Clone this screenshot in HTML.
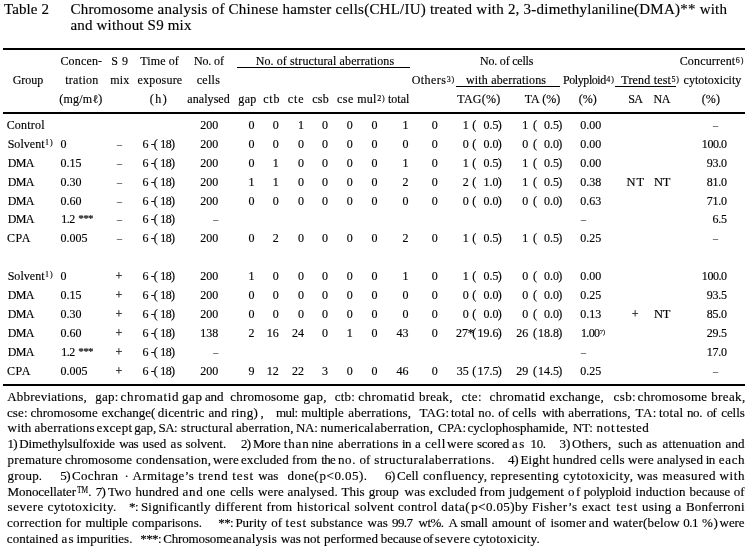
<!DOCTYPE html>
<html><head><meta charset="utf-8"><title>Table 2</title>
<style>
html,body{margin:0;padding:0;background:#fff;}
body{width:750px;height:548px;position:relative;overflow:hidden;font-family:"Liberation Serif", "Noto Serif CJK JP", serif;color:#000;}
div{position:absolute;white-space:pre;line-height:1;-webkit-text-stroke:0.15px #000;}
i{position:absolute;background:#000;display:block;}
.s{position:relative;letter-spacing:0.8px;line-height:0;margin-left:0.5px;}
</style></head><body>
<i style="left:3px;width:742px;top:48px;height:2px"></i>
<i style="left:3px;width:742px;top:112px;height:2px"></i>
<i style="left:3px;width:742px;top:384px;height:2px"></i>
<i style="left:237px;width:173px;top:67px;height:1px"></i>
<i style="left:456px;width:104px;top:86px;height:1px"></i>
<i style="left:615px;width:61px;top:86px;height:1px"></i>
<div style="top:2.00px;font-size:15px;letter-spacing:0.109px;left:3.95px;">Table 2</div>
<div style="top:2.00px;font-size:15px;letter-spacing:0.228px;left:70.45px;">Chromosome analysis of Chinese hamster cells(CHL/IU) treated with 2, 3-dimethylaniline(DMA)** with</div>
<div style="top:18.00px;font-size:15px;letter-spacing:0.181px;left:70.45px;">and without S9 mix</div>
<div style="top:74.00px;font-size:12.0px;letter-spacing:0.014px;left:12.64px;">Group</div>
<div style="top:55.00px;font-size:12.0px;letter-spacing:0.161px;left:60.44px;">Concen-</div>
<div style="top:74.00px;font-size:12.0px;letter-spacing:0.316px;left:65.14px;">tration</div>
<div style="top:93.00px;font-size:12.0px;letter-spacing:0.213px;left:59.34px;">(mg/mℓ)</div>
<div style="top:55.00px;font-size:12.0px;letter-spacing:0.523px;left:111.24px;">S 9</div>
<div style="top:74.00px;font-size:12.0px;letter-spacing:0.176px;left:110.24px;">mix</div>
<div style="top:55.00px;font-size:12.0px;letter-spacing:0.087px;left:140.34px;">Time of</div>
<div style="top:74.00px;font-size:12.0px;letter-spacing:0.186px;left:137.54px;">exposure</div>
<div style="top:93.00px;font-size:12.0px;letter-spacing:1.514px;left:149.64px;">(h)</div>
<div style="top:55.00px;font-size:12.0px;letter-spacing:-0.128px;left:193.94px;">No. of</div>
<div style="top:74.00px;font-size:12.0px;letter-spacing:0.307px;left:196.64px;">cells</div>
<div style="top:93.00px;font-size:12.0px;letter-spacing:0.063px;left:187.34px;">analysed</div>
<div style="top:55.00px;font-size:12.0px;letter-spacing:0.112px;left:255.64px;">No. of structural aberrations</div>
<div style="top:93.00px;font-size:12.0px;letter-spacing:0.397px;left:238.24px;">gap</div>
<div style="top:93.00px;font-size:12.0px;letter-spacing:0.780px;left:263.24px;">ctb</div>
<div style="top:93.00px;font-size:12.0px;letter-spacing:0.967px;left:287.64px;">cte</div>
<div style="top:93.00px;font-size:12.0px;letter-spacing:0.212px;left:312.24px;">csb</div>
<div style="top:93.00px;font-size:12.0px;letter-spacing:0.449px;left:337.04px;">cse</div>
<div style="top:93.00px;font-size:12.0px;letter-spacing:-0.002px;left:388.04px;">total</div>
<div style="top:93.00px;font-size:12.0px;letter-spacing:0.276px;left:357.24px;">mul<span class="s" style="font-size:8px;top:-2.5px;letter-spacing:0.8px">2)</span></div>
<div style="top:74.00px;font-size:12.0px;letter-spacing:0.446px;left:411.64px;">Others<span class="s" style="font-size:8px;top:-2.5px;letter-spacing:0.8px">3)</span></div>
<div style="top:55.00px;font-size:12.0px;letter-spacing:-0.212px;left:480.04px;">No. of cells</div>
<div style="top:74.00px;font-size:12.0px;letter-spacing:0.158px;left:466.04px;">with aberrations</div>
<div style="top:93.00px;font-size:12.0px;letter-spacing:0.286px;left:457.24px;">TAG(%)</div>
<div style="top:93.00px;font-size:12.0px;letter-spacing:0.059px;left:524.64px;">TA (%)</div>
<div style="top:74.00px;font-size:12.0px;letter-spacing:-0.432px;left:563.04px;">Polyploid<span class="s" style="font-size:8px;top:-2.5px;letter-spacing:0.8px">4)</span></div>
<div style="top:93.00px;font-size:12.0px;letter-spacing:-0.034px;left:578.84px;">(%)</div>
<div style="top:74.00px;font-size:12.0px;letter-spacing:0.181px;left:621.34px;">Trend test<span class="s" style="font-size:8px;top:-2.5px;letter-spacing:0.8px">5)</span></div>
<div style="top:93.00px;font-size:12.0px;letter-spacing:-0.600px;left:628.28px;">SA</div>
<div style="top:93.00px;font-size:12.0px;letter-spacing:-0.600px;left:653.58px;">NA</div>
<div style="top:55.00px;font-size:12.0px;letter-spacing:0.171px;left:679.64px;">Concurrent<span class="s" style="font-size:8px;top:-2.5px;letter-spacing:0.8px">6)</span></div>
<div style="top:74.00px;font-size:12.0px;letter-spacing:0.036px;left:683.54px;">cytotoxicity</div>
<div style="top:93.00px;font-size:12.0px;letter-spacing:0.116px;left:701.74px;">(%)</div>
<div style="top:119.00px;font-size:12.0px;letter-spacing:0.209px;left:6.64px;">Control</div>
<div style="top:119.00px;font-size:12.0px;right:531.74px;">200</div>
<div style="top:119.00px;font-size:12.0px;right:495.54px;">0</div>
<div style="top:119.00px;font-size:12.0px;right:471.24px;">0</div>
<div style="top:119.00px;font-size:12.0px;right:446.14px;">1</div>
<div style="top:119.00px;font-size:12.0px;right:422.04px;">0</div>
<div style="top:119.00px;font-size:12.0px;right:397.34px;">0</div>
<div style="top:119.00px;font-size:12.0px;right:372.64px;">0</div>
<div style="top:119.00px;font-size:12.0px;right:341.64px;">1</div>
<div style="top:119.00px;font-size:12.0px;right:312.24px;">0</div>
<div style="top:119.00px;font-size:12.0px;right:281.24px;">1</div>
<div style="top:119.00px;font-size:12.0px;left:472.24px;">(</div>
<div style="top:119.00px;font-size:12.0px;right:251.64px;">0.5</div>
<div style="top:119.00px;font-size:12.0px;left:497.64px;">)</div>
<div style="top:119.00px;font-size:12.0px;right:221.84px;">1</div>
<div style="top:119.00px;font-size:12.0px;left:532.94px;">(</div>
<div style="top:119.00px;font-size:12.0px;right:191.14px;">0.5</div>
<div style="top:119.00px;font-size:12.0px;left:558.14px;">)</div>
<div style="top:119.00px;font-size:12.0px;left:580.24px;">0.00</div>
<div style="top:121.00px;font-size:10px;left:715.50px;transform:translateX(-50%);">–</div>
<div style="top:138.00px;font-size:12.0px;letter-spacing:0.042px;left:7.64px;">Solvent<span class="s" style="font-size:8px;top:-3.2px;letter-spacing:0.8px">1)</span></div>
<div style="top:138.00px;font-size:12.0px;left:60.54px;">0</div>
<div style="top:140.00px;font-size:10px;left:119.50px;transform:translateX(-50%);">–</div>
<div style="top:138.00px;font-size:12.0px;left:142.54px;">6</div>
<div style="top:138.00px;font-size:12.0px;left:150.64px;">-</div>
<div style="top:138.00px;font-size:12.0px;left:153.64px;">(</div>
<div style="top:138.00px;font-size:12.0px;letter-spacing:-0.600px;left:160.30px;">18</div>
<div style="top:138.00px;font-size:12.0px;left:171.04px;">)</div>
<div style="top:138.00px;font-size:12.0px;right:531.74px;">200</div>
<div style="top:138.00px;font-size:12.0px;right:495.54px;">0</div>
<div style="top:138.00px;font-size:12.0px;right:471.24px;">0</div>
<div style="top:138.00px;font-size:12.0px;right:446.14px;">0</div>
<div style="top:138.00px;font-size:12.0px;right:422.04px;">0</div>
<div style="top:138.00px;font-size:12.0px;right:397.34px;">0</div>
<div style="top:138.00px;font-size:12.0px;right:372.64px;">0</div>
<div style="top:138.00px;font-size:12.0px;right:341.64px;">0</div>
<div style="top:138.00px;font-size:12.0px;right:312.24px;">0</div>
<div style="top:138.00px;font-size:12.0px;right:281.24px;">0</div>
<div style="top:138.00px;font-size:12.0px;left:472.24px;">(</div>
<div style="top:138.00px;font-size:12.0px;right:251.64px;">0.0</div>
<div style="top:138.00px;font-size:12.0px;left:497.64px;">)</div>
<div style="top:138.00px;font-size:12.0px;right:221.84px;">0</div>
<div style="top:138.00px;font-size:12.0px;left:532.94px;">(</div>
<div style="top:138.00px;font-size:12.0px;right:191.14px;">0.0</div>
<div style="top:138.00px;font-size:12.0px;left:558.14px;">)</div>
<div style="top:138.00px;font-size:12.0px;left:580.24px;">0.00</div>
<div style="top:138.00px;font-size:12.0px;letter-spacing:-0.450px;right:23.39px;">100.0</div>
<div style="top:157.00px;font-size:12.0px;letter-spacing:-0.600px;left:7.70px;">DMA</div>
<div style="top:157.00px;font-size:12.0px;left:60.54px;">0.15</div>
<div style="top:159.00px;font-size:10px;left:119.50px;transform:translateX(-50%);">–</div>
<div style="top:157.00px;font-size:12.0px;left:142.54px;">6</div>
<div style="top:157.00px;font-size:12.0px;left:150.64px;">-</div>
<div style="top:157.00px;font-size:12.0px;left:153.64px;">(</div>
<div style="top:157.00px;font-size:12.0px;letter-spacing:-0.600px;left:160.30px;">18</div>
<div style="top:157.00px;font-size:12.0px;left:171.04px;">)</div>
<div style="top:157.00px;font-size:12.0px;right:531.74px;">200</div>
<div style="top:157.00px;font-size:12.0px;right:495.54px;">0</div>
<div style="top:157.00px;font-size:12.0px;right:471.24px;">1</div>
<div style="top:157.00px;font-size:12.0px;right:446.14px;">0</div>
<div style="top:157.00px;font-size:12.0px;right:422.04px;">0</div>
<div style="top:157.00px;font-size:12.0px;right:397.34px;">0</div>
<div style="top:157.00px;font-size:12.0px;right:372.64px;">0</div>
<div style="top:157.00px;font-size:12.0px;right:341.64px;">1</div>
<div style="top:157.00px;font-size:12.0px;right:312.24px;">0</div>
<div style="top:157.00px;font-size:12.0px;right:281.24px;">1</div>
<div style="top:157.00px;font-size:12.0px;left:472.24px;">(</div>
<div style="top:157.00px;font-size:12.0px;right:251.64px;">0.5</div>
<div style="top:157.00px;font-size:12.0px;left:497.64px;">)</div>
<div style="top:157.00px;font-size:12.0px;right:221.84px;">1</div>
<div style="top:157.00px;font-size:12.0px;left:532.94px;">(</div>
<div style="top:157.00px;font-size:12.0px;right:191.14px;">0.5</div>
<div style="top:157.00px;font-size:12.0px;left:558.14px;">)</div>
<div style="top:157.00px;font-size:12.0px;left:580.24px;">0.00</div>
<div style="top:157.00px;font-size:12.0px;letter-spacing:-0.250px;right:23.19px;">93.0</div>
<div style="top:176.00px;font-size:12.0px;letter-spacing:-0.600px;left:7.70px;">DMA</div>
<div style="top:176.00px;font-size:12.0px;left:60.54px;">0.30</div>
<div style="top:178.00px;font-size:10px;left:119.50px;transform:translateX(-50%);">–</div>
<div style="top:176.00px;font-size:12.0px;left:142.54px;">6</div>
<div style="top:176.00px;font-size:12.0px;left:150.64px;">-</div>
<div style="top:176.00px;font-size:12.0px;left:153.64px;">(</div>
<div style="top:176.00px;font-size:12.0px;letter-spacing:-0.600px;left:160.30px;">18</div>
<div style="top:176.00px;font-size:12.0px;left:171.04px;">)</div>
<div style="top:176.00px;font-size:12.0px;right:531.74px;">200</div>
<div style="top:176.00px;font-size:12.0px;right:495.54px;">1</div>
<div style="top:176.00px;font-size:12.0px;right:471.24px;">1</div>
<div style="top:176.00px;font-size:12.0px;right:446.14px;">0</div>
<div style="top:176.00px;font-size:12.0px;right:422.04px;">0</div>
<div style="top:176.00px;font-size:12.0px;right:397.34px;">0</div>
<div style="top:176.00px;font-size:12.0px;right:372.64px;">0</div>
<div style="top:176.00px;font-size:12.0px;right:341.64px;">2</div>
<div style="top:176.00px;font-size:12.0px;right:312.24px;">0</div>
<div style="top:176.00px;font-size:12.0px;right:281.24px;">2</div>
<div style="top:176.00px;font-size:12.0px;left:472.24px;">(</div>
<div style="top:176.00px;font-size:12.0px;right:251.64px;">1.0</div>
<div style="top:176.00px;font-size:12.0px;left:497.64px;">)</div>
<div style="top:176.00px;font-size:12.0px;right:221.84px;">1</div>
<div style="top:176.00px;font-size:12.0px;left:532.94px;">(</div>
<div style="top:176.00px;font-size:12.0px;right:191.14px;">0.5</div>
<div style="top:176.00px;font-size:12.0px;left:558.14px;">)</div>
<div style="top:176.00px;font-size:12.0px;left:580.24px;">0.38</div>
<div style="top:176.00px;font-size:12.5px;letter-spacing:0.887px;left:626.62px;">NT</div>
<div style="top:176.00px;font-size:12.5px;letter-spacing:-0.113px;left:653.92px;">NT</div>
<div style="top:176.00px;font-size:12.0px;letter-spacing:-0.250px;right:23.19px;">81.0</div>
<div style="top:195.00px;font-size:12.0px;letter-spacing:-0.600px;left:7.70px;">DMA</div>
<div style="top:195.00px;font-size:12.0px;left:60.54px;">0.60</div>
<div style="top:197.00px;font-size:10px;left:119.50px;transform:translateX(-50%);">–</div>
<div style="top:195.00px;font-size:12.0px;left:142.54px;">6</div>
<div style="top:195.00px;font-size:12.0px;left:150.64px;">-</div>
<div style="top:195.00px;font-size:12.0px;left:153.64px;">(</div>
<div style="top:195.00px;font-size:12.0px;letter-spacing:-0.600px;left:160.30px;">18</div>
<div style="top:195.00px;font-size:12.0px;left:171.04px;">)</div>
<div style="top:195.00px;font-size:12.0px;right:531.74px;">200</div>
<div style="top:195.00px;font-size:12.0px;right:495.54px;">0</div>
<div style="top:195.00px;font-size:12.0px;right:471.24px;">0</div>
<div style="top:195.00px;font-size:12.0px;right:446.14px;">0</div>
<div style="top:195.00px;font-size:12.0px;right:422.04px;">0</div>
<div style="top:195.00px;font-size:12.0px;right:397.34px;">0</div>
<div style="top:195.00px;font-size:12.0px;right:372.64px;">0</div>
<div style="top:195.00px;font-size:12.0px;right:341.64px;">0</div>
<div style="top:195.00px;font-size:12.0px;right:312.24px;">0</div>
<div style="top:195.00px;font-size:12.0px;right:281.24px;">0</div>
<div style="top:195.00px;font-size:12.0px;left:472.24px;">(</div>
<div style="top:195.00px;font-size:12.0px;right:251.64px;">0.0</div>
<div style="top:195.00px;font-size:12.0px;left:497.64px;">)</div>
<div style="top:195.00px;font-size:12.0px;right:221.84px;">0</div>
<div style="top:195.00px;font-size:12.0px;left:532.94px;">(</div>
<div style="top:195.00px;font-size:12.0px;right:191.14px;">0.0</div>
<div style="top:195.00px;font-size:12.0px;left:558.14px;">)</div>
<div style="top:195.00px;font-size:12.0px;left:580.24px;">0.63</div>
<div style="top:195.00px;font-size:12.0px;letter-spacing:-0.250px;right:23.19px;">71.0</div>
<div style="top:213.00px;font-size:12.0px;letter-spacing:-0.600px;left:7.70px;">DMA</div>
<div style="top:213.00px;font-size:12.0px;letter-spacing:-0.600px;left:61.35px;">1.2</div>
<div style="top:213.00px;font-size:11px;letter-spacing:-0.600px;left:78.27px;">***</div>
<div style="top:215.00px;font-size:10px;left:119.50px;transform:translateX(-50%);">–</div>
<div style="top:213.00px;font-size:12.0px;left:142.54px;">6</div>
<div style="top:213.00px;font-size:12.0px;left:150.64px;">-</div>
<div style="top:213.00px;font-size:12.0px;left:153.64px;">(</div>
<div style="top:213.00px;font-size:12.0px;letter-spacing:-0.600px;left:160.30px;">18</div>
<div style="top:213.00px;font-size:12.0px;left:171.04px;">)</div>
<div style="top:215.00px;font-size:10px;right:531.80px;">–</div>
<div style="top:215.00px;font-size:10px;left:581.00px;">–</div>
<div style="top:213.00px;font-size:12.0px;letter-spacing:-0.250px;right:23.19px;">6.5</div>
<div style="top:232.00px;font-size:12.0px;letter-spacing:0.589px;left:6.94px;">CPA</div>
<div style="top:232.00px;font-size:12.0px;left:60.54px;">0.005</div>
<div style="top:234.00px;font-size:10px;left:119.50px;transform:translateX(-50%);">–</div>
<div style="top:232.00px;font-size:12.0px;left:142.54px;">6</div>
<div style="top:232.00px;font-size:12.0px;left:150.64px;">-</div>
<div style="top:232.00px;font-size:12.0px;left:153.64px;">(</div>
<div style="top:232.00px;font-size:12.0px;letter-spacing:-0.600px;left:160.30px;">18</div>
<div style="top:232.00px;font-size:12.0px;left:171.04px;">)</div>
<div style="top:232.00px;font-size:12.0px;right:531.74px;">200</div>
<div style="top:232.00px;font-size:12.0px;right:495.54px;">0</div>
<div style="top:232.00px;font-size:12.0px;right:471.24px;">2</div>
<div style="top:232.00px;font-size:12.0px;right:446.14px;">0</div>
<div style="top:232.00px;font-size:12.0px;right:422.04px;">0</div>
<div style="top:232.00px;font-size:12.0px;right:397.34px;">0</div>
<div style="top:232.00px;font-size:12.0px;right:372.64px;">0</div>
<div style="top:232.00px;font-size:12.0px;right:341.64px;">2</div>
<div style="top:232.00px;font-size:12.0px;right:312.24px;">0</div>
<div style="top:232.00px;font-size:12.0px;right:281.24px;">1</div>
<div style="top:232.00px;font-size:12.0px;left:472.24px;">(</div>
<div style="top:232.00px;font-size:12.0px;right:251.64px;">0.5</div>
<div style="top:232.00px;font-size:12.0px;left:497.64px;">)</div>
<div style="top:232.00px;font-size:12.0px;right:221.84px;">1</div>
<div style="top:232.00px;font-size:12.0px;left:532.94px;">(</div>
<div style="top:232.00px;font-size:12.0px;right:191.14px;">0.5</div>
<div style="top:232.00px;font-size:12.0px;left:558.14px;">)</div>
<div style="top:232.00px;font-size:12.0px;left:580.24px;">0.25</div>
<div style="top:234.00px;font-size:10px;left:715.50px;transform:translateX(-50%);">–</div>
<div style="top:270.00px;font-size:12.0px;letter-spacing:0.042px;left:7.64px;">Solvent<span class="s" style="font-size:8px;top:-3.2px;letter-spacing:0.8px">1)</span></div>
<div style="top:270.00px;font-size:12.0px;left:60.54px;">0</div>
<div style="top:270.00px;font-size:12px;left:119.00px;transform:translateX(-50%);">+</div>
<div style="top:270.00px;font-size:12.0px;left:142.54px;">6</div>
<div style="top:270.00px;font-size:12.0px;left:150.64px;">-</div>
<div style="top:270.00px;font-size:12.0px;left:153.64px;">(</div>
<div style="top:270.00px;font-size:12.0px;letter-spacing:-0.600px;left:160.30px;">18</div>
<div style="top:270.00px;font-size:12.0px;left:171.04px;">)</div>
<div style="top:270.00px;font-size:12.0px;right:531.74px;">200</div>
<div style="top:270.00px;font-size:12.0px;right:495.54px;">1</div>
<div style="top:270.00px;font-size:12.0px;right:471.24px;">0</div>
<div style="top:270.00px;font-size:12.0px;right:446.14px;">0</div>
<div style="top:270.00px;font-size:12.0px;right:422.04px;">0</div>
<div style="top:270.00px;font-size:12.0px;right:397.34px;">0</div>
<div style="top:270.00px;font-size:12.0px;right:372.64px;">0</div>
<div style="top:270.00px;font-size:12.0px;right:341.64px;">1</div>
<div style="top:270.00px;font-size:12.0px;right:312.24px;">0</div>
<div style="top:270.00px;font-size:12.0px;right:281.24px;">1</div>
<div style="top:270.00px;font-size:12.0px;left:472.24px;">(</div>
<div style="top:270.00px;font-size:12.0px;right:251.64px;">0.5</div>
<div style="top:270.00px;font-size:12.0px;left:497.64px;">)</div>
<div style="top:270.00px;font-size:12.0px;right:221.84px;">0</div>
<div style="top:270.00px;font-size:12.0px;left:532.94px;">(</div>
<div style="top:270.00px;font-size:12.0px;right:191.14px;">0.0</div>
<div style="top:270.00px;font-size:12.0px;left:558.14px;">)</div>
<div style="top:270.00px;font-size:12.0px;left:580.24px;">0.00</div>
<div style="top:270.00px;font-size:12.0px;letter-spacing:-0.450px;right:23.39px;">100.0</div>
<div style="top:289.00px;font-size:12.0px;letter-spacing:-0.600px;left:7.70px;">DMA</div>
<div style="top:289.00px;font-size:12.0px;left:60.54px;">0.15</div>
<div style="top:289.00px;font-size:12px;left:119.00px;transform:translateX(-50%);">+</div>
<div style="top:289.00px;font-size:12.0px;left:142.54px;">6</div>
<div style="top:289.00px;font-size:12.0px;left:150.64px;">-</div>
<div style="top:289.00px;font-size:12.0px;left:153.64px;">(</div>
<div style="top:289.00px;font-size:12.0px;letter-spacing:-0.600px;left:160.30px;">18</div>
<div style="top:289.00px;font-size:12.0px;left:171.04px;">)</div>
<div style="top:289.00px;font-size:12.0px;right:531.74px;">200</div>
<div style="top:289.00px;font-size:12.0px;right:495.54px;">0</div>
<div style="top:289.00px;font-size:12.0px;right:471.24px;">0</div>
<div style="top:289.00px;font-size:12.0px;right:446.14px;">0</div>
<div style="top:289.00px;font-size:12.0px;right:422.04px;">0</div>
<div style="top:289.00px;font-size:12.0px;right:397.34px;">0</div>
<div style="top:289.00px;font-size:12.0px;right:372.64px;">0</div>
<div style="top:289.00px;font-size:12.0px;right:341.64px;">0</div>
<div style="top:289.00px;font-size:12.0px;right:312.24px;">0</div>
<div style="top:289.00px;font-size:12.0px;right:281.24px;">0</div>
<div style="top:289.00px;font-size:12.0px;left:472.24px;">(</div>
<div style="top:289.00px;font-size:12.0px;right:251.64px;">0.0</div>
<div style="top:289.00px;font-size:12.0px;left:497.64px;">)</div>
<div style="top:289.00px;font-size:12.0px;right:221.84px;">0</div>
<div style="top:289.00px;font-size:12.0px;left:532.94px;">(</div>
<div style="top:289.00px;font-size:12.0px;right:191.14px;">0.0</div>
<div style="top:289.00px;font-size:12.0px;left:558.14px;">)</div>
<div style="top:289.00px;font-size:12.0px;left:580.24px;">0.25</div>
<div style="top:289.00px;font-size:12.0px;letter-spacing:-0.250px;right:23.19px;">93.5</div>
<div style="top:308.00px;font-size:12.0px;letter-spacing:-0.600px;left:7.70px;">DMA</div>
<div style="top:308.00px;font-size:12.0px;left:60.54px;">0.30</div>
<div style="top:308.00px;font-size:12px;left:119.00px;transform:translateX(-50%);">+</div>
<div style="top:308.00px;font-size:12.0px;left:142.54px;">6</div>
<div style="top:308.00px;font-size:12.0px;left:150.64px;">-</div>
<div style="top:308.00px;font-size:12.0px;left:153.64px;">(</div>
<div style="top:308.00px;font-size:12.0px;letter-spacing:-0.600px;left:160.30px;">18</div>
<div style="top:308.00px;font-size:12.0px;left:171.04px;">)</div>
<div style="top:308.00px;font-size:12.0px;right:531.74px;">200</div>
<div style="top:308.00px;font-size:12.0px;right:495.54px;">0</div>
<div style="top:308.00px;font-size:12.0px;right:471.24px;">0</div>
<div style="top:308.00px;font-size:12.0px;right:446.14px;">0</div>
<div style="top:308.00px;font-size:12.0px;right:422.04px;">0</div>
<div style="top:308.00px;font-size:12.0px;right:397.34px;">0</div>
<div style="top:308.00px;font-size:12.0px;right:372.64px;">0</div>
<div style="top:308.00px;font-size:12.0px;right:341.64px;">0</div>
<div style="top:308.00px;font-size:12.0px;right:312.24px;">0</div>
<div style="top:308.00px;font-size:12.0px;right:281.24px;">0</div>
<div style="top:308.00px;font-size:12.0px;left:472.24px;">(</div>
<div style="top:308.00px;font-size:12.0px;right:251.64px;">0.0</div>
<div style="top:308.00px;font-size:12.0px;left:497.64px;">)</div>
<div style="top:308.00px;font-size:12.0px;right:221.84px;">0</div>
<div style="top:308.00px;font-size:12.0px;left:532.94px;">(</div>
<div style="top:308.00px;font-size:12.0px;right:191.14px;">0.0</div>
<div style="top:308.00px;font-size:12.0px;left:558.14px;">)</div>
<div style="top:308.00px;font-size:12.0px;left:580.24px;">0.13</div>
<div style="top:308.00px;font-size:12px;left:635.20px;transform:translateX(-50%);">+</div>
<div style="top:308.00px;font-size:12.5px;letter-spacing:-0.113px;left:653.92px;">NT</div>
<div style="top:308.00px;font-size:12.0px;letter-spacing:-0.250px;right:23.19px;">85.0</div>
<div style="top:327.00px;font-size:12.0px;letter-spacing:-0.600px;left:7.70px;">DMA</div>
<div style="top:327.00px;font-size:12.0px;left:60.54px;">0.60</div>
<div style="top:327.00px;font-size:12px;left:119.00px;transform:translateX(-50%);">+</div>
<div style="top:327.00px;font-size:12.0px;left:142.54px;">6</div>
<div style="top:327.00px;font-size:12.0px;left:150.64px;">-</div>
<div style="top:327.00px;font-size:12.0px;left:153.64px;">(</div>
<div style="top:327.00px;font-size:12.0px;letter-spacing:-0.600px;left:160.30px;">18</div>
<div style="top:327.00px;font-size:12.0px;left:171.04px;">)</div>
<div style="top:327.00px;font-size:12.0px;right:531.74px;">138</div>
<div style="top:327.00px;font-size:12.0px;right:495.54px;">2</div>
<div style="top:327.00px;font-size:12.0px;right:471.24px;">16</div>
<div style="top:327.00px;font-size:12.0px;right:446.14px;">24</div>
<div style="top:327.00px;font-size:12.0px;right:422.04px;">0</div>
<div style="top:327.00px;font-size:12.0px;right:397.34px;">1</div>
<div style="top:327.00px;font-size:12.0px;right:372.64px;">0</div>
<div style="top:327.00px;font-size:12.0px;right:341.64px;">43</div>
<div style="top:327.00px;font-size:12.0px;right:312.24px;">0</div>
<div style="top:327.00px;font-size:12.0px;right:281.94px;">27</div>
<div style="top:327.00px;font-size:12px;left:467.74px;">*</div>
<div style="top:327.00px;font-size:12.0px;left:472.24px;">(</div>
<div style="top:327.00px;font-size:12.0px;right:251.64px;">19.6</div>
<div style="top:327.00px;font-size:12.0px;left:497.64px;">)</div>
<div style="top:327.00px;font-size:12.0px;right:221.84px;">26</div>
<div style="top:327.00px;font-size:12.0px;left:532.94px;">(</div>
<div style="top:327.00px;font-size:12.0px;right:191.14px;">18.8</div>
<div style="top:327.00px;font-size:12.0px;left:558.14px;">)</div>
<div style="top:327.00px;font-size:12.0px;letter-spacing:-0.600px;left:580.90px;">1.00</div>
<div style="top:329.00px;font-size:6.5px;letter-spacing:0.100px;left:599.70px;">7)</div>
<div style="top:327.00px;font-size:12.0px;letter-spacing:-0.250px;right:23.19px;">29.5</div>
<div style="top:346.00px;font-size:12.0px;letter-spacing:-0.600px;left:7.70px;">DMA</div>
<div style="top:346.00px;font-size:12.0px;letter-spacing:-0.600px;left:61.35px;">1.2</div>
<div style="top:346.00px;font-size:11px;letter-spacing:-0.600px;left:78.27px;">***</div>
<div style="top:346.00px;font-size:12px;left:119.00px;transform:translateX(-50%);">+</div>
<div style="top:346.00px;font-size:12.0px;left:142.54px;">6</div>
<div style="top:346.00px;font-size:12.0px;left:150.64px;">-</div>
<div style="top:346.00px;font-size:12.0px;left:153.64px;">(</div>
<div style="top:346.00px;font-size:12.0px;letter-spacing:-0.600px;left:160.30px;">18</div>
<div style="top:346.00px;font-size:12.0px;left:171.04px;">)</div>
<div style="top:348.00px;font-size:10px;right:531.80px;">–</div>
<div style="top:348.00px;font-size:10px;left:581.00px;">–</div>
<div style="top:346.00px;font-size:12.0px;letter-spacing:-0.250px;right:23.19px;">17.0</div>
<div style="top:365.00px;font-size:12.0px;letter-spacing:0.589px;left:6.94px;">CPA</div>
<div style="top:365.00px;font-size:12.0px;left:60.54px;">0.005</div>
<div style="top:365.00px;font-size:12px;left:119.00px;transform:translateX(-50%);">+</div>
<div style="top:365.00px;font-size:12.0px;left:142.54px;">6</div>
<div style="top:365.00px;font-size:12.0px;left:150.64px;">-</div>
<div style="top:365.00px;font-size:12.0px;left:153.64px;">(</div>
<div style="top:365.00px;font-size:12.0px;letter-spacing:-0.600px;left:160.30px;">18</div>
<div style="top:365.00px;font-size:12.0px;left:171.04px;">)</div>
<div style="top:365.00px;font-size:12.0px;right:531.74px;">200</div>
<div style="top:365.00px;font-size:12.0px;right:495.54px;">9</div>
<div style="top:365.00px;font-size:12.0px;right:471.24px;">12</div>
<div style="top:365.00px;font-size:12.0px;right:446.14px;">22</div>
<div style="top:365.00px;font-size:12.0px;right:422.04px;">3</div>
<div style="top:365.00px;font-size:12.0px;right:397.34px;">0</div>
<div style="top:365.00px;font-size:12.0px;right:372.64px;">0</div>
<div style="top:365.00px;font-size:12.0px;right:341.64px;">46</div>
<div style="top:365.00px;font-size:12.0px;right:312.24px;">0</div>
<div style="top:365.00px;font-size:12.0px;right:281.24px;">35</div>
<div style="top:365.00px;font-size:12.0px;left:472.24px;">(</div>
<div style="top:365.00px;font-size:12.0px;right:251.64px;">17.5</div>
<div style="top:365.00px;font-size:12.0px;left:497.64px;">)</div>
<div style="top:365.00px;font-size:12.0px;right:221.84px;">29</div>
<div style="top:365.00px;font-size:12.0px;left:532.94px;">(</div>
<div style="top:365.00px;font-size:12.0px;right:191.14px;">14.5</div>
<div style="top:365.00px;font-size:12.0px;left:558.14px;">)</div>
<div style="top:365.00px;font-size:12.0px;left:580.24px;">0.25</div>
<div style="top:367.00px;font-size:10px;left:715.50px;transform:translateX(-50%);">–</div>
<div style="top:390.00px;font-size:13.0px;letter-spacing:0.206px;left:7.21px;">Abbreviations,</div>
<div style="top:390.00px;font-size:13.0px;letter-spacing:0.266px;left:95.21px;">gap:</div>
<div style="top:390.00px;font-size:13.0px;letter-spacing:0.634px;left:120.61px;">chromatid</div>
<div style="top:390.00px;font-size:13.0px;letter-spacing:0.505px;left:182.11px;">gap</div>
<div style="top:390.00px;font-size:13.0px;letter-spacing:-0.145px;left:204.91px;">and</div>
<div style="top:390.00px;font-size:13.0px;letter-spacing:0.181px;left:230.31px;">chromosome</div>
<div style="top:390.00px;font-size:13.0px;letter-spacing:0.253px;left:303.61px;">gap,</div>
<div style="top:390.00px;font-size:13.0px;letter-spacing:0.229px;left:334.71px;">ctb:</div>
<div style="top:390.00px;font-size:13.0px;letter-spacing:0.422px;left:358.31px;">chromatid</div>
<div style="top:390.00px;font-size:13.0px;letter-spacing:0.272px;left:418.91px;">break,</div>
<div style="top:390.00px;font-size:13.0px;letter-spacing:0.439px;left:461.61px;">cte:</div>
<div style="top:390.00px;font-size:13.0px;letter-spacing:0.347px;left:489.61px;">chromatid</div>
<div style="top:390.00px;font-size:13.0px;letter-spacing:0.219px;left:549.61px;">exchange,</div>
<div style="top:390.00px;font-size:13.0px;letter-spacing:0.380px;left:613.61px;">csb:</div>
<div style="top:390.00px;font-size:13.0px;letter-spacing:0.259px;left:637.61px;">chromosome</div>
<div style="top:390.00px;font-size:13.0px;letter-spacing:0.372px;left:711.21px;">break,</div>
<div style="top:406.00px;font-size:13.0px;letter-spacing:0.190px;left:6.91px;">cse:</div>
<div style="top:406.00px;font-size:13.0px;letter-spacing:0.003px;left:30.51px;">chromosome</div>
<div style="top:406.00px;font-size:13.0px;letter-spacing:0.021px;left:101.81px;">exchange(</div>
<div style="top:406.00px;font-size:13.0px;letter-spacing:0.113px;left:157.81px;">dicentric</div>
<div style="top:406.00px;font-size:13.0px;letter-spacing:0.005px;left:208.41px;">and</div>
<div style="top:406.00px;font-size:13.0px;letter-spacing:0.327px;left:231.21px;">ring)</div>
<div style="top:406.00px;font-size:13.0px;left:260.61px;">,</div>
<div style="top:406.00px;font-size:13.0px;letter-spacing:-0.600px;left:276.08px;">mul:</div>
<div style="top:406.00px;font-size:13.0px;letter-spacing:-0.136px;left:301.31px;">multiple</div>
<div style="top:406.00px;font-size:13.0px;letter-spacing:0.162px;left:348.31px;">aberrations,</div>
<div style="top:406.00px;font-size:13.0px;letter-spacing:0.064px;left:419.61px;">TAG:</div>
<div style="top:406.00px;font-size:13.0px;letter-spacing:0.094px;left:450.91px;">total</div>
<div style="top:406.00px;font-size:13.0px;letter-spacing:-0.085px;left:478.31px;">no.</div>
<div style="top:406.00px;font-size:13.0px;letter-spacing:-0.049px;left:498.31px;">of</div>
<div style="top:406.00px;font-size:13.0px;letter-spacing:0.064px;left:512.31px;">cells</div>
<div style="top:406.00px;font-size:13.0px;letter-spacing:-0.344px;left:542.31px;">with</div>
<div style="top:406.00px;font-size:13.0px;letter-spacing:0.098px;left:568.31px;">aberrations,</div>
<div style="top:406.00px;font-size:13.0px;letter-spacing:0.440px;left:635.61px;">TA:</div>
<div style="top:406.00px;font-size:13.0px;letter-spacing:0.269px;left:658.91px;">total</div>
<div style="top:406.00px;font-size:13.0px;letter-spacing:-0.385px;left:686.91px;">no.</div>
<div style="top:406.00px;font-size:13.0px;letter-spacing:-0.600px;left:706.69px;">of</div>
<div style="top:406.00px;font-size:13.0px;letter-spacing:-0.061px;left:721.21px;">cells</div>
<div style="top:421.00px;font-size:13.0px;letter-spacing:0.156px;left:7.61px;">with</div>
<div style="top:421.00px;font-size:13.0px;letter-spacing:0.223px;left:34.61px;">aberrations</div>
<div style="top:421.00px;font-size:13.0px;letter-spacing:0.312px;left:96.61px;">except</div>
<div style="top:421.00px;font-size:13.0px;letter-spacing:-0.047px;left:134.31px;">gap,</div>
<div style="top:421.00px;font-size:13.0px;letter-spacing:-0.600px;left:158.59px;">SA:</div>
<div style="top:421.00px;font-size:13.0px;letter-spacing:0.299px;left:181.11px;">structural</div>
<div style="top:421.00px;font-size:13.0px;letter-spacing:0.154px;left:235.91px;">aberration,</div>
<div style="top:421.00px;font-size:13.0px;letter-spacing:-0.204px;left:295.91px;">NA:</div>
<div style="top:421.00px;font-size:13.0px;letter-spacing:0.163px;left:320.41px;">numerical</div>
<div style="top:421.00px;font-size:13.0px;letter-spacing:0.234px;left:374.61px;">aberration,</div>
<div style="top:421.00px;font-size:13.0px;letter-spacing:0.191px;left:437.91px;">CPA:</div>
<div style="top:421.00px;font-size:13.0px;letter-spacing:-0.028px;left:467.61px;">cyclophosphamide,</div>
<div style="top:421.00px;font-size:13.0px;letter-spacing:-0.157px;left:572.91px;">NT:</div>
<div style="top:421.00px;font-size:13.0px;letter-spacing:0.684px;left:596.61px;">not</div>
<div style="top:421.00px;font-size:13.0px;letter-spacing:0.411px;left:616.31px;">tested</div>
<div style="top:437.00px;font-size:13.0px;letter-spacing:-0.600px;left:7.39px;">1)</div>
<div style="top:437.00px;font-size:13.0px;letter-spacing:-0.107px;left:19.31px;">Dimethylsulfoxide</div>
<div style="top:437.00px;font-size:13.0px;letter-spacing:-0.419px;left:119.31px;">was</div>
<div style="top:437.00px;font-size:13.0px;letter-spacing:-0.083px;left:142.61px;">used</div>
<div style="top:437.00px;font-size:13.0px;letter-spacing:0.851px;left:170.41px;">as</div>
<div style="top:437.00px;font-size:13.0px;letter-spacing:-0.003px;left:185.41px;">solvent.</div>
<div style="top:437.00px;font-size:13.0px;letter-spacing:-0.549px;left:240.91px;">2)</div>
<div style="top:437.00px;font-size:13.0px;letter-spacing:-0.126px;left:252.91px;">More</div>
<div style="top:437.00px;font-size:13.0px;letter-spacing:0.833px;left:283.81px;">than</div>
<div style="top:437.00px;font-size:13.0px;letter-spacing:-0.201px;left:311.61px;">nine</div>
<div style="top:437.00px;font-size:13.0px;letter-spacing:0.273px;left:337.91px;">aberrations</div>
<div style="top:437.00px;font-size:13.0px;letter-spacing:-0.600px;left:401.94px;">in</div>
<div style="top:437.00px;font-size:13.0px;left:414.91px;">a</div>
<div style="top:437.00px;font-size:13.0px;letter-spacing:0.572px;left:424.91px;">cell</div>
<div style="top:437.00px;font-size:13.0px;letter-spacing:0.408px;left:446.91px;">were</div>
<div style="top:437.00px;font-size:13.0px;letter-spacing:-0.330px;left:477.01px;">scored</div>
<div style="top:437.00px;font-size:13.0px;letter-spacing:1.600px;left:511.94px;">as</div>
<div style="top:437.00px;font-size:13.0px;letter-spacing:-0.435px;left:530.61px;">10.</div>
<div style="top:437.00px;font-size:13.0px;letter-spacing:-0.049px;left:559.61px;">3)</div>
<div style="top:437.00px;font-size:13.0px;letter-spacing:0.195px;left:572.11px;">Others,</div>
<div style="top:437.00px;font-size:13.0px;letter-spacing:0.084px;left:618.31px;">such</div>
<div style="top:437.00px;font-size:13.0px;letter-spacing:0.351px;left:645.91px;">as</div>
<div style="top:437.00px;font-size:13.0px;letter-spacing:0.082px;left:662.61px;">attenuation</div>
<div style="top:437.00px;font-size:13.0px;letter-spacing:0.205px;left:725.41px;">and</div>
<div style="top:453.00px;font-size:13.0px;letter-spacing:0.224px;left:7.61px;">premature</div>
<div style="top:453.00px;font-size:13.0px;letter-spacing:0.003px;left:64.91px;">chromosome</div>
<div style="top:453.00px;font-size:13.0px;letter-spacing:0.245px;left:136.11px;">condensation,</div>
<div style="top:453.00px;font-size:13.0px;letter-spacing:0.174px;left:212.91px;">were</div>
<div style="top:453.00px;font-size:13.0px;letter-spacing:0.123px;left:240.91px;">excluded</div>
<div style="top:453.00px;font-size:13.0px;letter-spacing:-0.097px;left:292.11px;">from</div>
<div style="top:453.00px;font-size:13.0px;letter-spacing:-0.600px;left:321.16px;">the</div>
<div style="top:453.00px;font-size:13.0px;letter-spacing:0.515px;left:338.11px;">no.</div>
<div style="top:453.00px;font-size:13.0px;letter-spacing:-0.049px;left:359.61px;">of</div>
<div style="top:453.00px;font-size:13.0px;letter-spacing:0.554px;left:374.31px;">structural</div>
<div style="top:453.00px;font-size:13.0px;letter-spacing:0.434px;left:428.81px;">aberrations.</div>
<div style="top:453.00px;font-size:13.0px;letter-spacing:-0.049px;left:507.91px;">4)</div>
<div style="top:453.00px;font-size:13.0px;letter-spacing:0.172px;left:520.41px;">Eight hundred cells</div>
<div style="top:453.00px;font-size:13.0px;letter-spacing:0.174px;left:627.91px;">were</div>
<div style="top:453.00px;font-size:13.0px;letter-spacing:0.043px;left:657.11px;">analysed</div>
<div style="top:453.00px;font-size:13.0px;letter-spacing:-0.600px;left:705.69px;">in</div>
<div style="top:453.00px;font-size:13.0px;letter-spacing:0.657px;left:718.81px;">each</div>
<div style="top:469.00px;font-size:13.0px;letter-spacing:0.180px;left:7.61px;">group.</div>
<div style="top:469.00px;font-size:13.0px;letter-spacing:-0.600px;left:60.29px;">5)</div>
<div style="top:469.00px;font-size:13.0px;letter-spacing:0.290px;left:72.11px;">Cochran</div>
<div style="top:469.00px;font-size:13.0px;left:124.61px;">·</div>
<div style="top:469.00px;font-size:13.0px;letter-spacing:0.368px;left:132.61px;">Armitage’s</div>
<div style="top:469.00px;font-size:13.0px;letter-spacing:0.667px;left:198.31px;">trend</div>
<div style="top:469.00px;font-size:13.0px;letter-spacing:0.909px;left:232.31px;">test</div>
<div style="top:469.00px;font-size:13.0px;letter-spacing:-0.069px;left:258.31px;">was</div>
<div style="top:469.00px;font-size:13.0px;letter-spacing:0.370px;left:287.61px;">done(</div>
<div style="top:469.00px;font-size:13.0px;letter-spacing:0.474px;left:319.61px;">p&lt;0.05).</div>
<div style="top:469.00px;font-size:13.0px;letter-spacing:-0.349px;left:384.91px;">6)</div>
<div style="top:469.00px;font-size:13.0px;letter-spacing:-0.028px;left:397.11px;">Cell</div>
<div style="top:469.00px;font-size:13.0px;letter-spacing:0.402px;left:422.91px;">confluency,</div>
<div style="top:469.00px;font-size:13.0px;letter-spacing:0.366px;left:490.41px;">representing</div>
<div style="top:469.00px;font-size:13.0px;letter-spacing:0.423px;left:563.31px;">cytotoxicity,</div>
<div style="top:469.00px;font-size:13.0px;letter-spacing:0.281px;left:637.11px;">was</div>
<div style="top:469.00px;font-size:13.0px;letter-spacing:0.424px;left:662.61px;">measured</div>
<div style="top:469.00px;font-size:13.0px;letter-spacing:0.623px;left:719.61px;">with</div>
<div style="top:485.00px;font-size:13.0px;letter-spacing:-0.075px;left:7.61px;">Monocellater</div>
<div style="top:485.00px;font-size:13.0px;letter-spacing:-0.600px;left:95.69px;">7)</div>
<div style="top:485.00px;font-size:13.0px;letter-spacing:0.179px;left:107.91px;">Two</div>
<div style="top:485.00px;font-size:13.0px;letter-spacing:0.113px;left:135.41px;">hundred</div>
<div style="top:485.00px;font-size:13.0px;letter-spacing:0.655px;left:182.61px;">and</div>
<div style="top:485.00px;font-size:13.0px;letter-spacing:0.005px;left:206.61px;">one</div>
<div style="top:485.00px;font-size:13.0px;letter-spacing:-0.111px;left:230.31px;">cells</div>
<div style="top:485.00px;font-size:13.0px;letter-spacing:0.174px;left:257.91px;">were</div>
<div style="top:485.00px;font-size:13.0px;letter-spacing:0.169px;left:287.61px;">analysed.</div>
<div style="top:485.00px;font-size:13.0px;letter-spacing:-0.044px;left:341.61px;">This</div>
<div style="top:485.00px;font-size:13.0px;letter-spacing:-0.112px;left:368.81px;">group</div>
<div style="top:485.00px;font-size:13.0px;letter-spacing:0.281px;left:404.61px;">was</div>
<div style="top:485.00px;font-size:13.0px;letter-spacing:0.065px;left:428.81px;">excluded</div>
<div style="top:485.00px;font-size:13.0px;letter-spacing:0.070px;left:479.61px;">from</div>
<div style="top:485.00px;font-size:13.0px;letter-spacing:0.026px;left:508.81px;">judgement</div>
<div style="top:485.00px;font-size:13.0px;letter-spacing:1.451px;left:568.11px;">of</div>
<div style="top:485.00px;font-size:13.0px;letter-spacing:-0.307px;left:583.81px;">polyploid</div>
<div style="top:485.00px;font-size:13.0px;letter-spacing:0.109px;left:635.41px;">induction</div>
<div style="top:485.00px;font-size:13.0px;letter-spacing:-0.060px;left:689.61px;">because</div>
<div style="top:485.00px;font-size:13.0px;letter-spacing:-0.049px;left:733.81px;">of</div>
<div style="top:500.00px;font-size:13.0px;letter-spacing:0.516px;left:7.61px;">severe</div>
<div style="top:500.00px;font-size:13.0px;letter-spacing:0.340px;left:47.61px;">cytotoxicity.</div>
<div style="top:500.00px;font-size:13.0px;letter-spacing:-0.600px;left:128.99px;">*:</div>
<div style="top:500.00px;font-size:13.0px;letter-spacing:0.193px;left:140.91px;">Significantly</div>
<div style="top:500.00px;font-size:13.0px;letter-spacing:0.333px;left:214.91px;">different</div>
<div style="top:500.00px;font-size:13.0px;letter-spacing:0.070px;left:266.61px;">from</div>
<div style="top:500.00px;font-size:13.0px;letter-spacing:0.512px;left:297.11px;">historical</div>
<div style="top:500.00px;font-size:13.0px;letter-spacing:0.255px;left:354.61px;">solvent</div>
<div style="top:500.00px;font-size:13.0px;letter-spacing:0.393px;left:397.91px;">control</div>
<div style="top:500.00px;font-size:13.0px;letter-spacing:0.575px;left:441.31px;">data(</div>
<div style="top:500.00px;font-size:13.0px;letter-spacing:0.395px;left:471.31px;">p&lt;0.05)</div>
<div style="top:500.00px;font-size:13.0px;letter-spacing:-0.220px;left:515.11px;">by</div>
<div style="top:500.00px;font-size:13.0px;letter-spacing:0.475px;left:532.11px;">Fisher’s</div>
<div style="top:500.00px;font-size:13.0px;letter-spacing:0.215px;left:582.11px;">exact</div>
<div style="top:500.00px;font-size:13.0px;letter-spacing:0.909px;left:616.31px;">test</div>
<div style="top:500.00px;font-size:13.0px;letter-spacing:0.227px;left:642.11px;">using</div>
<div style="top:500.00px;font-size:13.0px;left:675.41px;">a</div>
<div style="top:500.00px;font-size:13.0px;letter-spacing:0.182px;left:685.91px;">Bonferroni</div>
<div style="top:516.00px;font-size:13.0px;letter-spacing:0.210px;left:7.11px;">correction</div>
<div style="top:516.00px;font-size:13.0px;letter-spacing:0.311px;left:65.41px;">for</div>
<div style="top:516.00px;font-size:13.0px;letter-spacing:-0.121px;left:85.41px;">multiple</div>
<div style="top:516.00px;font-size:13.0px;letter-spacing:0.093px;left:132.11px;">comparisons.</div>
<div style="top:516.00px;font-size:13.0px;letter-spacing:-0.600px;left:218.29px;">**:</div>
<div style="top:516.00px;font-size:13.0px;letter-spacing:-0.021px;left:235.41px;">Purity</div>
<div style="top:516.00px;font-size:13.0px;letter-spacing:-0.049px;left:271.31px;">of</div>
<div style="top:516.00px;font-size:13.0px;letter-spacing:0.909px;left:285.41px;">test</div>
<div style="top:516.00px;font-size:13.0px;letter-spacing:0.242px;left:310.41px;">substance</div>
<div style="top:516.00px;font-size:13.0px;letter-spacing:0.031px;left:367.61px;">was</div>
<div style="top:516.00px;font-size:13.0px;letter-spacing:-0.600px;left:392.03px;">99.7</div>
<div style="top:516.00px;font-size:13.0px;letter-spacing:-0.600px;left:418.61px;">wt%.</div>
<div style="top:516.00px;font-size:13.0px;left:448.41px;">A</div>
<div style="top:516.00px;font-size:13.0px;letter-spacing:-0.171px;left:460.41px;">small</div>
<div style="top:516.00px;font-size:13.0px;letter-spacing:0.017px;left:492.11px;">amount</div>
<div style="top:516.00px;font-size:13.0px;letter-spacing:-0.600px;left:535.29px;">of</div>
<div style="top:516.00px;font-size:13.0px;letter-spacing:0.080px;left:550.41px;">isomer</div>
<div style="top:516.00px;font-size:13.0px;letter-spacing:0.555px;left:588.81px;">and</div>
<div style="top:516.00px;font-size:13.0px;letter-spacing:0.256px;left:612.91px;">water(</div>
<div style="top:516.00px;font-size:13.0px;letter-spacing:0.052px;left:647.61px;">below</div>
<div style="top:516.00px;font-size:13.0px;letter-spacing:-0.600px;left:683.33px;">0.1</div>
<div style="top:516.00px;font-size:13.0px;letter-spacing:0.622px;left:702.11px;">%)</div>
<div style="top:516.00px;font-size:13.0px;letter-spacing:-0.092px;left:719.61px;">were</div>
<div style="top:532.00px;font-size:13.0px;letter-spacing:0.081px;left:6.81px;">contained</div>
<div style="top:532.00px;font-size:13.0px;letter-spacing:1.151px;left:61.61px;">as</div>
<div style="top:532.00px;font-size:13.0px;letter-spacing:0.001px;left:76.41px;">impurities.</div>
<div style="top:532.00px;font-size:13.0px;letter-spacing:-0.600px;left:140.29px;">***:</div>
<div style="top:532.00px;font-size:13.0px;letter-spacing:-0.153px;left:163.21px;">Chromosome</div>
<div style="top:532.00px;font-size:13.0px;letter-spacing:0.300px;left:232.81px;">analysis</div>
<div style="top:532.00px;font-size:13.0px;letter-spacing:-0.119px;left:280.81px;">was</div>
<div style="top:532.00px;font-size:13.0px;letter-spacing:-0.116px;left:303.61px;">not</div>
<div style="top:532.00px;font-size:13.0px;letter-spacing:-0.007px;left:323.91px;">performed</div>
<div style="top:532.00px;font-size:13.0px;letter-spacing:-0.127px;left:380.81px;">because</div>
<div style="top:532.00px;font-size:13.0px;letter-spacing:-0.600px;left:423.14px;">of</div>
<div style="top:532.00px;font-size:13.0px;letter-spacing:0.476px;left:434.81px;">severe</div>
<div style="top:532.00px;font-size:13.0px;letter-spacing:0.165px;left:473.21px;">cytotoxicity.</div>
<div style="top:485.00px;font-size:10px;left:76.60px;transform:scaleX(0.74);transform-origin:0 0;">TM</div>
<div style="top:485.00px;font-size:13.0px;left:88.21px;">.</div>
</body></html>
